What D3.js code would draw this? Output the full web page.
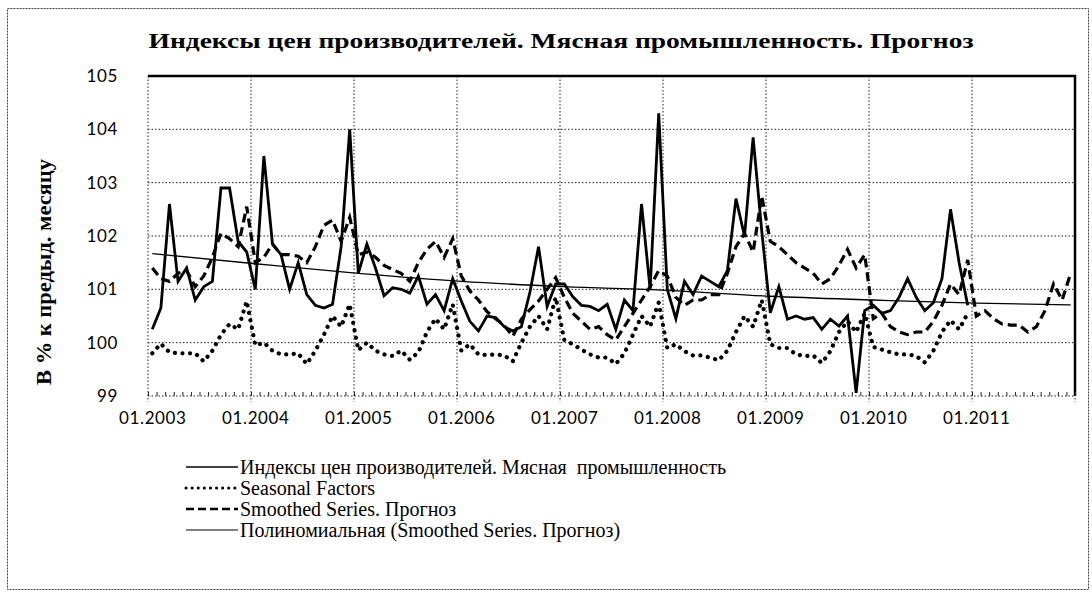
<!DOCTYPE html>
<html lang="ru">
<head>
<meta charset="UTF-8">
<title>Индексы цен производителей. Мясная промышленность. Прогноз</title>
<script src="https://cdn.jsdelivr.net/npm/d3@7/dist/d3.min.js"></script>
<style>
  body { margin: 0; background: #fff; }
  svg { display: block; }
</style>
</head>
<body>
<svg width="1092" height="594"></svg>
<script>
// x labels, one per January
const yearLabels = ['01.2003', '01.2004', '01.2005', '01.2006', '01.2007', '01.2008', '01.2009', '01.2010', '01.2011'];
const yTicks = [99, 100, 101, 102, 103, 104, 105];

// monthly values, 01.2003 - 12.2010
const priceIndex = [
  100.25, 100.65, 102.6, 101.15, 101.4, 100.8, 101.05, 101.15, 102.9, 102.9, 101.9, 101.7,
  101.0, 103.5, 101.85, 101.65, 101.0, 101.5, 100.9, 100.7, 100.65, 100.72, 101.8, 104.0,
  101.3, 101.85, 101.4, 100.88, 101.03, 101.0, 100.93, 101.25, 100.72, 100.9, 100.6, 101.2,
  100.78, 100.4, 100.22, 100.5, 100.47, 100.3, 100.22, 100.3, 100.95, 101.8, 100.68, 101.1,
  101.1, 100.86, 100.7, 100.68, 100.6, 100.72, 100.25, 100.8, 100.6, 102.6, 101.0, 104.3,
  101.0, 100.45, 101.15, 100.9, 101.25, 101.15, 101.05, 101.35, 102.7, 102.0, 103.85, 102.1,
  100.56, 101.05, 100.44, 100.5, 100.44, 100.47, 100.25, 100.44, 100.31, 100.5, 99.06, 100.6,
  100.7, 100.55, 100.6, 100.85, 101.2, 100.85, 100.6, 100.75, 101.2, 102.5, 101.5, 100.7
];

const seasonal = [
  99.8, 99.98, 99.82, 99.8, 99.8, 99.8, 99.65, 99.85, 100.15, 100.35, 100.25, 100.78,
  99.95, 100.0, 99.85, 99.78, 99.78, 99.8, 99.6, 99.85, 100.15, 100.5, 100.3, 100.72,
  99.86, 100.0, 99.85, 99.78, 99.75, 99.85, 99.68, 99.82, 100.2, 100.45, 100.25, 100.72,
  99.85, 99.97, 99.78, 99.77, 99.78, 99.76, 99.65, 100.0, 100.3, 100.5, 100.25, 100.85,
  100.05, 99.97, 99.87, 99.78, 99.72, 99.72, 99.6, 99.8, 100.15, 100.5, 100.3, 100.75,
  99.9, 99.97, 99.84, 99.76, 99.76, 99.72, 99.67, 99.85, 100.2, 100.5, 100.3, 100.8,
  99.97, 99.9, 99.9, 99.78, 99.75, 99.76, 99.62, 99.84, 100.2, 100.4, 100.2, 100.55,
  99.92, 99.87, 99.82, 99.78, 99.78, 99.75, 99.63, 99.85, 100.2, 100.42, 100.25, 100.55
];

// smoothed series with forecast, 01.2003 - 12.2011
const smoothed = [
  101.4, 101.2, 101.15, 101.3, 101.35, 101.05, 101.25, 101.6, 102.05, 101.95, 101.8, 102.55,
  101.5, 101.6, 101.85, 101.65, 101.65, 101.62, 101.5, 101.8, 102.2, 102.3, 101.9, 102.35,
  101.65, 101.7, 101.6, 101.45, 101.37, 101.3, 101.15, 101.5, 101.75, 101.9, 101.6, 101.95,
  101.25, 100.97, 100.8, 100.58, 100.45, 100.32, 100.12, 100.44, 100.62, 100.78, 101.0, 101.22,
  100.85, 100.55, 100.4, 100.25, 100.3, 100.15, 100.05, 100.3, 100.55, 100.8, 101.05, 101.35,
  101.25, 100.85, 100.7, 100.8, 100.8, 100.9, 100.9, 101.3, 101.8, 102.05, 101.7, 102.75,
  101.9, 101.8, 101.65, 101.5, 101.4, 101.3, 101.1, 101.2, 101.45, 101.75, 101.4, 101.65,
  100.45, 100.55, 100.3, 100.2, 100.15, 100.2, 100.2, 100.4, 100.7, 101.1, 100.9, 101.55,
  100.5, 100.6, 100.45, 100.35, 100.33, 100.33, 100.2, 100.3, 100.6, 101.1, 100.8, 101.3
];

// polynomial trend read at each January and at the last month
const trendMonth = [0, 12, 24, 36, 48, 60, 72, 84, 96, 107];
const trendValue = [101.67, 101.48, 101.3, 101.15, 101.05, 100.98, 100.87, 100.8, 100.74, 100.71];

const svg = d3.select('svg');
const plotLeft = 148, plotRight = 1075, plotTop = 76, plotBottom = 396;

// months sit between tick marks, like an Excel category axis
const x = d3.scaleLinear().domain([-0.5, 107.5]).range([plotLeft, plotRight]);
const y = d3.scaleLinear().domain([99, 105]).range([plotBottom, plotTop]);

// outer chart border
svg.append('rect')
  .attr('x', 7.5).attr('y', 8.5).attr('width', 1081).attr('height', 581)
  .attr('fill', 'none').attr('stroke', '#444').attr('stroke-width', 1)
  .attr('stroke-dasharray', '2,1');

// title
svg.append('text')
  .attr('x', 561).attr('y', 48)
  .attr('text-anchor', 'middle')
  .attr('textLength', 825).attr('lengthAdjust', 'spacingAndGlyphs')
  .style('font-family', '"Liberation Serif", serif')
  .style('font-weight', 'bold').style('font-size', '20px')
  .text('Индексы цен производителей. Мясная промышленность. Прогноз');

// y axis title
svg.append('text')
  .attr('transform', 'translate(51,272) rotate(-90)')
  .attr('text-anchor', 'middle')
  .attr('textLength', 226).attr('lengthAdjust', 'spacingAndGlyphs')
  .style('font-family', '"Liberation Serif", serif')
  .style('font-weight', 'bold').style('font-size', '20px')
  .text('В % к предыд. месяцу');

// grid
svg.append('g').selectAll('line')
  .data(yTicks.filter((d) => d < 105))
  .enter().append('line')
  .attr('x1', plotLeft).attr('x2', plotRight)
  .attr('y1', (d) => y(d)).attr('y2', (d) => y(d))
  .attr('stroke', '#222').attr('stroke-width', 1)
  .attr('stroke-dasharray', '1.5,2');

svg.append('g').selectAll('line')
  .data(d3.range(0, 109, 12))
  .enter().append('line')
  .attr('x1', (d) => x(d - 0.5)).attr('x2', (d) => x(d - 0.5))
  .attr('y1', plotTop).attr('y2', plotBottom + 6)
  .attr('stroke', '#222').attr('stroke-width', 1)
  .attr('stroke-dasharray', '1.5,2');

// solid top and right edges of the plot area
svg.append('path')
  .attr('d', `M${plotLeft},${plotTop}H${plotRight}V${plotBottom}`)
  .attr('fill', 'none').attr('stroke', '#000').attr('stroke-width', 2.5);

// month tick marks along the bottom
const minor = svg.append('g')
  .attr('transform', `translate(0,${plotBottom})`)
  .call(d3.axisTop(x).tickValues(d3.range(0, 109).map((i) => i - 0.5)).tickSize(4).tickFormat(''));
minor.select('.domain').remove();
minor.selectAll('line').attr('stroke', '#222').attr('stroke-width', 1);

// x labels
const xAxis = svg.append('g')
  .attr('transform', `translate(0,${plotBottom})`)
  .call(d3.axisBottom(x)
    .tickValues(yearLabels.map((d, i) => i * 12))
    .tickSize(0).tickPadding(16)
    .tickFormat((d, i) => yearLabels[i]));
xAxis.select('.domain').remove();
xAxis.selectAll('text')
  .style('font-family', 'Lato, sans-serif').style('font-size', '17px')
  .style('letter-spacing', '0.6px').attr('fill', '#000');

// y labels
const yAxis = svg.append('g')
  .attr('transform', `translate(${plotLeft},0)`)
  .call(d3.axisLeft(y).tickValues(yTicks).tickSize(0).tickPadding(30).tickFormat(d3.format('d')));
yAxis.select('.domain').remove();
yAxis.selectAll('text')
  .style('font-family', 'Lato, sans-serif').style('font-size', '17px')
  .style('letter-spacing', '0.6px').attr('fill', '#000');

// series
const monthLine = d3.line().x((d, i) => x(i)).y((d) => y(d));

svg.append('path').datum(smoothed)
  .attr('d', monthLine)
  .attr('fill', 'none').attr('stroke', '#000').attr('stroke-width', 3.2)
  .attr('stroke-dasharray', '9,5');

svg.append('path').datum(seasonal)
  .attr('d', monthLine)
  .attr('fill', 'none').attr('stroke', '#000').attr('stroke-width', 4.2)
  .attr('stroke-linecap', 'round').attr('stroke-dasharray', '0.1,7.5');

svg.append('path').datum(priceIndex)
  .attr('d', monthLine)
  .attr('fill', 'none').attr('stroke', '#000').attr('stroke-width', 2.8);

svg.append('path').datum(trendMonth.map((m, i) => [m, trendValue[i]]))
  .attr('d', d3.line().x((d) => x(d[0])).y((d) => y(d[1])).curve(d3.curveMonotoneX))
  .attr('fill', 'none').attr('stroke', '#000').attr('stroke-width', 1.3);

// legend
const legendItems = [
  { name: 'Индексы цен производителей. Мясная\u00a0\u00a0промышленность', width: 1.6, dash: null, cap: 'butt' },
  { name: 'Seasonal Factors', width: 3, dash: '0.1,6', cap: 'round' },
  { name: 'Smoothed Series. Прогноз', width: 2.6, dash: '8,4', cap: 'butt' },
  { name: 'Полиномиальная (Smoothed Series. Прогноз)', width: 1, dash: null, cap: 'butt' }
];

const legend = svg.append('g').selectAll('g')
  .data(legendItems)
  .enter().append('g')
  .attr('transform', (d, i) => `translate(0,${467 + i * 21})`);

legend.append('line')
  .attr('x1', 186).attr('x2', 238)
  .attr('stroke', '#000')
  .attr('stroke-width', (d) => d.width)
  .attr('stroke-dasharray', (d) => d.dash)
  .attr('stroke-linecap', (d) => d.cap);

legend.append('text')
  .attr('x', 240).attr('dy', '0.35em')
  .style('font-family', '"Liberation Serif", serif').style('font-size', '20px')
  .text((d) => d.name);
</script>
</body>
</html>
